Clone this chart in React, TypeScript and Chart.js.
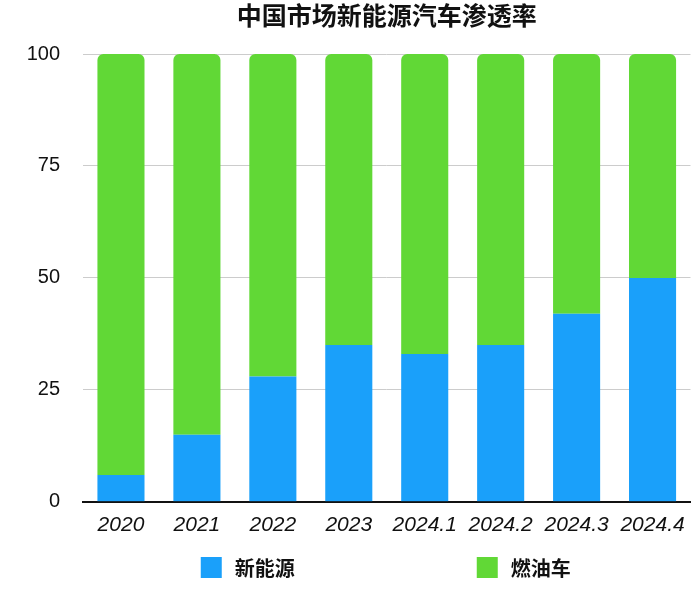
import React, { useEffect, useRef } from "react";
import { Chart, registerables } from "chart.js";

Chart.register(...registerables);

const categories = ["2020", "2021", "2022", "2023", "2024.1", "2024.2", "2024.3", "2024.4"];
const nevShare = [6, 15, 28, 35, 33, 35, 42, 50];
const iceShare = [94, 85, 72, 65, 67, 65, 58, 50];
const seriesNames = ["新能源", "燃油车"];
const seriesColors = ["#1AA0FA", "#61D836"];
const yTicks = [0, 25, 50, 75, 100];
const titleText = "中国市场新能源汽车渗透率";

const CJK = "'Noto Sans CJK SC', 'Noto Sans', sans-serif";
const LATIN = "'Liberation Sans', Arial, sans-serif";

const legendPlugin = {
  id: "customLegend",
  afterDraw(chart: any) {
    const { ctx, chartArea } = chart;
    const cx = (chartArea.left + chartArea.right) / 2;
    const y = 567.5;
    const offsets = [-186, 90];
    ctx.save();
    ctx.font = `bold 20px ${CJK}`;
    ctx.textBaseline = "middle";
    ctx.textAlign = "left";
    chart.data.datasets.forEach((ds: any, i: number) => {
      const x = cx + offsets[i];
      ctx.fillStyle = ds.backgroundColor;
      ctx.fillRect(x, y - 10.5, 21, 21);
      ctx.fillStyle = "#111";
      ctx.fillText(ds.label, x + 34, y + 1);
    });
    ctx.restore();
  },
};

export default function App() {
  const ref = useRef<HTMLCanvasElement | null>(null);
  useEffect(() => {
    if (!ref.current) return;
    const chart = new Chart(ref.current, {
      type: "bar",
      data: {
        labels: categories,
        datasets: [
          {
            label: seriesNames[0],
            data: nevShare,
            backgroundColor: seriesColors[0],
            borderWidth: 0,
            borderRadius: 0,
            categoryPercentage: 1,
            barPercentage: 0.62,
          },
          {
            label: seriesNames[1],
            data: iceShare,
            backgroundColor: seriesColors[1],
            borderWidth: 0,
            borderRadius: { topLeft: 6, topRight: 6, bottomLeft: 0, bottomRight: 0 },
            borderSkipped: false,
            categoryPercentage: 1,
            barPercentage: 0.62,
          },
        ],
      },
      options: {
        animation: false,
        responsive: false,
        maintainAspectRatio: false,
        layout: { padding: { top: 0, right: 4, bottom: 48, left: 0 } },
        plugins: {
          legend: { display: false },
          tooltip: { enabled: false },
          title: {
            display: true,
            text: titleText,
            fullSize: false,
            color: "#111",
            font: { family: CJK, size: 25, weight: "bold" },
            padding: { top: 0, bottom: 24 },
          },
        },
        scales: {
          x: {
            stacked: true,
            grid: { display: false, drawTicks: false },
            border: { display: true, color: "#111", width: 2 },
            ticks: {
              autoSkip: false,
              maxRotation: 0,
              padding: 11,
              color: "#111",
              font: { family: LATIN, size: 21, style: "italic" },
            },
          },
          y: {
            stacked: true,
            min: 0,
            max: 100,
            afterBuildTicks(scale: any) {
              scale.ticks = yTicks.map((v) => ({ value: v }));
            },
            afterFit(scale: any) {
              scale.width = 83;
            },
            grid: { color: "#cccccc", lineWidth: 1, drawTicks: false },
            border: { display: false },
            ticks: {
              padding: 23,
              color: "#111",
              font: { family: LATIN, size: 20 },
            },
          },
        },
      },
      plugins: [legendPlugin],
    });
    return () => chart.destroy();
  }, []);
  return (
    <div style={{ position: "fixed", left: 0, top: 0, width: 696, height: 597, background: "#fff" }}>
      <canvas ref={ref} width={696} height={597} style={{ width: 696, height: 597, display: "block" }} />
    </div>
  );
}
